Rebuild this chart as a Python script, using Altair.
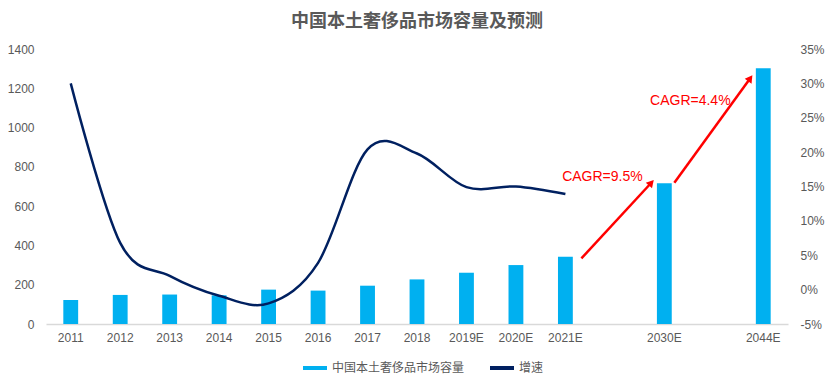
import altair as alt
import pandas as pd

# ---- data ----
categories = ["2011", "2012", "2013", "2014", "2015", "2016", "2017", "2018",
              "2019E", "2020E", "2021E", "2030E", "2044E"]
market_size = [122, 148, 150, 146, 175, 170, 195, 227, 261, 300, 343, 716, 1302]
growth_years = ["2011", "2012", "2013", "2014", "2015", "2016", "2017", "2018",
                "2019E", "2020E", "2021E"]
growth_pct = [30.0, 6.8, 2.0, -0.9, -2.0, 3.9, 20.4, 19.8, 14.9, 15.0, 13.9]

# x slots (two empty slots between the forecasts)
x_domain = ["2011", "2012", "2013", "2014", "2015", "2016", "2017", "2018",
            "2019E", "2020E", "2021E", "gap1", "2030E", "gap2", "2044E"]

bar_name = "中国本土奢侈品市场容量"
line_name = "增速"
title_text = "中国本土奢侈品市场容量及预测"

left_ticks = [0, 200, 400, 600, 800, 1000, 1200, 1400]
right_ticks = [-5, 0, 5, 10, 15, 20, 25, 30, 35]

# CAGR annotations
cagr_labels = ["CAGR=9.5%", "CAGR=4.4%"]
cagr_cats = ["2021E", "2030E"]
cagr_vals = [748, 1137]

arrow_start_cat = ["2021E", "2030E"]
arrow_start_val = [334, 719]
arrow_end_cat = ["2030E", "2044E"]
arrow_end_val = [719, 1251]

BLUE = "#00B0F0"
NAVY = "#002060"
RED = "#FF0000"
GRAY = "#595959"
FONT = "Liberation Sans"
CJK = "Noto Sans CJK SC"

bars_df = pd.DataFrame({"cat": categories, "value": market_size, "series": bar_name})
line_df = pd.DataFrame({"cat": growth_years, "g": growth_pct, "series": line_name})

x_scale = alt.Scale(domain=x_domain, paddingInner=0.7, paddingOuter=0.35)
x_enc = alt.X(
    "cat:N",
    sort=x_domain,
    scale=x_scale,
    axis=alt.Axis(
        title=None, labelAngle=0, ticks=False, labelPadding=8,
        labelExpr="indexof(datum.value, 'gap') == 0 ? '' : datum.value",
        labelFont=FONT, labelFontSize=12, labelColor=GRAY,
        domainColor="#d9d9d9", domainWidth=1.5, grid=False,
    ),
)

y_scale = alt.Scale(domain=[0, 1400], nice=False, zero=True)
y_axis = alt.Axis(title=None, values=left_ticks, ticks=False, domain=False, grid=False,
                  format="d", labelPadding=12, labelFont=FONT, labelFontSize=12,
                  labelColor=GRAY)

color_scale = alt.Scale(domain=[bar_name, line_name], range=[BLUE, NAVY])
legend = alt.Legend(title=None, orient="none", direction="horizontal",
                    legendX=255, legendY=305, symbolType="stroke",
                    symbolStrokeWidth=4, symbolSize=576,
                    labelFont=CJK, labelFontSize=12, labelColor=GRAY,
                    labelOffset=3, columnPadding=17)

bars = alt.Chart(bars_df).mark_bar(color=BLUE).encode(
    x=x_enc,
    y=alt.Y("value:Q", scale=y_scale, axis=y_axis),
    color=alt.Color("series:N", scale=color_scale, legend=legend),
)

ann_df = pd.DataFrame({"cat": cagr_cats, "value": cagr_vals, "label": cagr_labels})
text1 = alt.Chart(ann_df.iloc[[0]]).mark_text(
    color=RED, font=FONT, fontSize=14, align="center", baseline="middle", dx=37
).encode(x=x_enc, y=alt.Y("value:Q", scale=y_scale, axis=y_axis), text="label:N")
text2 = alt.Chart(ann_df.iloc[[1]]).mark_text(
    color=RED, font=FONT, fontSize=14, align="center", baseline="middle", dx=26
).encode(x=x_enc, y=alt.Y("value:Q", scale=y_scale, axis=y_axis), text="label:N")

arr_df = pd.DataFrame({"cat": arrow_start_cat, "cat2": arrow_end_cat,
                       "value": arrow_start_val, "value2": arrow_end_val})

def arrow(i, x_off, x2_off, ang):
    d = arr_df.iloc[[i]]
    shaft = alt.Chart(d).mark_rule(color=RED, strokeWidth=2.5, xOffset=x_off, x2Offset=x2_off).encode(
        x=x_enc, x2="cat2:N",
        y=alt.Y("value:Q", scale=y_scale, axis=y_axis), y2="value2:Q",
    )
    head = alt.Chart(d).mark_point(shape="triangle-up", filled=True, color=RED, opacity=1,
                                   size=70, angle=ang, xOffset=x2_off).encode(
        x=alt.X("cat2:N", sort=x_domain, scale=x_scale),
        y=alt.Y("value2:Q", scale=y_scale, axis=y_axis),
    )
    return shaft + head

left = alt.layer(bars, arrow(0, 16, -13, 42), arrow(1, 10, -13, 36), text1, text2)

line = alt.Chart(line_df).mark_line(interpolate="cardinal", strokeWidth=2.5, color=NAVY).encode(
    x=x_enc,
    y=alt.Y("g:Q", scale=alt.Scale(domain=[-5, 35], nice=False, zero=False),
            axis=alt.Axis(title=None, orient="right", values=right_ticks, ticks=False,
                          domain=False, grid=False, labelPadding=12, labelAlign="left",
                          labelExpr="datum.value + '%'", labelFont=FONT,
                          labelFontSize=12, labelColor=GRAY)),
    color=alt.Color("series:N", scale=color_scale, legend=legend),
)

chart = alt.layer(left, line).resolve_scale(y="independent").properties(
    width=742, height=275,
    autosize=alt.AutoSizeParams(type="none"),
    padding={"left": 46, "top": 49, "right": 44, "bottom": 58},
    title=alt.TitleParams(title_text, font=CJK, fontSize=18,
                          fontWeight="bold", color=GRAY, anchor="middle", offset=12),
).configure_view(stroke=None)

chart.save("out.html", embed_options={"renderer": "svg", "actions": False})
